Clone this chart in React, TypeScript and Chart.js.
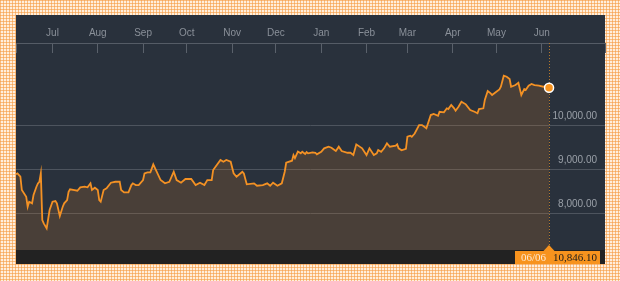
import React, { useEffect, useRef } from "react";
import { Chart, registerables } from "chart.js";

Chart.register(...registerables);

// Days elapsed since the first trading day (June 6) of the one-year window
const dayOffsets = [
  0, 1, 3, 4, 7, 8, 9, 11, 12, 14, 15, 16, 17, 18, 19, 21, 23, 25, 27, 28,
  30, 32, 33, 35, 36, 37, 40, 42, 44, 47, 49, 51, 52, 54, 56, 57, 58, 60, 62, 65,
  68, 71, 72, 74, 77, 79, 80, 82, 84, 87, 88, 90, 92, 94, 99, 102, 105, 108, 110, 113,
  116, 120, 123, 126, 129, 131, 134, 135, 140, 142, 144, 147, 149, 151, 155, 156, 158, 163, 165, 169,
  172, 174, 176, 179, 182, 184, 185, 189, 190, 191, 193, 195, 196, 198, 199, 200, 203, 205, 206, 209,
  211, 214, 216, 219, 221, 223, 227, 229, 231, 233, 237, 240, 242, 245, 247, 248, 250, 252, 254, 256,
  260, 261, 262, 264, 267, 268, 270, 271, 273, 276, 278, 281, 284, 286, 289, 290, 293, 295, 296, 298,
  300, 301, 303, 305, 308, 311, 314, 316, 317, 320, 321, 323, 325, 326, 328, 331, 332, 334, 336, 338,
  339, 342, 344, 346, 348, 349, 351, 353, 355, 358, 361, 363, 365,
];

// Index closing values
const closeValues = [
  8880, 8902, 8825, 8523, 8370, 8143, 8257, 8220, 8409, 8598, 8674, 8711, 8902, 7841, 7766, 7652, 8068, 8257, 8273, 8220,
  7932, 8143, 8220, 8295, 8484, 8539, 8523, 8507, 8584, 8598, 8584, 8675, 8523, 8575, 8523, 8295, 8257, 8523, 8561, 8689,
  8711, 8711, 8523, 8470, 8470, 8636, 8675, 8636, 8636, 8750, 8902, 8925, 8925, 9107, 8750, 8675, 8711, 8939, 8750, 8689,
  8773, 8773, 8636, 8689, 8636, 8750, 8750, 8977, 9205, 9166, 9205, 9166, 8902, 8825, 8939, 8902, 8652, 8675, 8620, 8636,
  8675, 8620, 8689, 8620, 8675, 8939, 9143, 9189, 9318, 9250, 9398, 9357, 9393, 9341, 9386, 9357, 9380, 9370, 9334, 9393,
  9470, 9507, 9484, 9409, 9507, 9409, 9370, 9370, 9318, 9561, 9470, 9318, 9470, 9318, 9357, 9432, 9393, 9470, 9584, 9507,
  9530, 9561, 9470, 9425, 9461, 9734, 9757, 9734, 9807, 10000, 10000, 9925, 10227, 10250, 10211, 10302, 10289, 10380, 10364, 10455,
  10380, 10325, 10416, 10530, 10470, 10341, 10302, 10266, 10364, 10380, 10568, 10773, 10720, 10682, 10734, 10811, 10870, 11120, 11098, 11045,
  10870, 10909, 10961, 10682, 10818, 10795, 10893, 10932, 10909, 10893, 10870, 10893, 10846.1,
];

const monthTickDays = [25, 56, 87, 117, 148, 178, 209, 240, 268, 299, 329, 360];
const monthTickLabels = ["Jul", "Aug", "Sep", "Oct", "Nov", "Dec", "Jan", "Feb", "Mar", "Apr", "May", "Jun"];
const yTickValues = [8000, 9000, 10000];
const lastDateLabel = "06/06";

const X_MIN = 0;
const X_MAX = 403.3;
const Y_MIN = 7160;
const Y_MAX = 11864;

const PANEL = { left: 16, top: 15, right: 605, bottom: 264 };

function fmt2(v: number) {
  return v.toLocaleString("en-US", { minimumFractionDigits: 2, maximumFractionDigits: 2 });
}

function makeChecker(ctx: CanvasRenderingContext2D) {
  const c = document.createElement("canvas");
  c.width = 3;
  c.height = 3;
  const p = c.getContext("2d")!;
  p.fillStyle = "#ffeedc";
  p.fillRect(0, 0, 3, 3);
  p.fillStyle = "rgba(246,156,70,0.62)";
  p.fillRect(0, 0, 3, 1);
  p.fillRect(0, 0, 1, 3);
  return ctx.createPattern(c, "repeat");
}

const framePlugin = {
  id: "frame",
  beforeDraw(chart: any) {
    const ctx: CanvasRenderingContext2D = chart.ctx;
    ctx.save();
    const pat = makeChecker(ctx);
    ctx.fillStyle = pat || "#fcd7ae";
    ctx.fillRect(0, 0, chart.width, chart.height);
    ctx.fillStyle = "#29313c";
    ctx.fillRect(PANEL.left, PANEL.top, PANEL.right - PANEL.left, PANEL.bottom - PANEL.top);
    const ca = chart.chartArea;
    ctx.fillStyle = "#222222";
    ctx.fillRect(PANEL.left, ca.bottom, PANEL.right - PANEL.left, PANEL.bottom - ca.bottom);
    ctx.restore();
  },
  beforeDatasetsDraw(chart: any) {
    const ctx: CanvasRenderingContext2D = chart.ctx;
    const meta = chart.getDatasetMeta(0);
    const last = meta.data[meta.data.length - 1];
    const ca = chart.chartArea;
    ctx.save();
    ctx.strokeStyle = "#b5782c";
    ctx.lineWidth = 1;
    ctx.setLineDash([1, 2]);
    ctx.beginPath();
    ctx.moveTo(Math.round(last.x) + 0.5, ca.top);
    ctx.lineTo(Math.round(last.x) + 0.5, ca.bottom - 5);
    ctx.stroke();
    ctx.restore();
  },
  afterDraw(chart: any) {
    const ctx: CanvasRenderingContext2D = chart.ctx;
    const meta = chart.getDatasetMeta(0);
    const last = meta.data[meta.data.length - 1];
    const ca = chart.chartArea;
    const px = Math.round(last.x);
    const top = ca.bottom + 1;
    const bottom = PANEL.bottom;
    const left = px - 34;
    const right = px + 51;
    ctx.save();
    ctx.fillStyle = "#f7931e";
    ctx.fillRect(left, top, right - left, bottom - top);
    ctx.beginPath();
    ctx.moveTo(px - 6, top + 0.5);
    ctx.lineTo(px, top - 6);
    ctx.lineTo(px + 6, top + 0.5);
    ctx.closePath();
    ctx.fill();
    ctx.font = '11px "Liberation Serif"';
    ctx.textBaseline = "middle";
    ctx.textAlign = "left";
    ctx.fillStyle = "#feead4";
    ctx.fillText(lastDateLabel, left + 6, (top + bottom) / 2 + 0.5);
    ctx.textAlign = "right";
    ctx.fillStyle = "#1c1c1c";
    ctx.fillText(fmt2(closeValues[closeValues.length - 1]), right - 3, (top + bottom) / 2 + 0.5);
    ctx.restore();
  },
};

export default function App() {
  const canvasRef = useRef<HTMLCanvasElement | null>(null);

  useEffect(() => {
    const canvas = canvasRef.current;
    if (!canvas) return;
    const n = closeValues.length;
    const points = dayOffsets.map((d, i) => ({ x: d, y: closeValues[i] }));
    const radii = closeValues.map((_, i) => (i === n - 1 ? 4.5 : 0));

    const chart = new Chart(canvas, {
      type: "line",
      data: {
        datasets: [
          {
            data: points,
            borderColor: "#f39124",
            borderWidth: 1.8,
            backgroundColor: "rgba(204,121,42,0.2)",
            fill: "start",
            tension: 0,
            pointRadius: radii,
            pointHoverRadius: radii,
            pointBackgroundColor: "#f7931e",
            pointBorderColor: "#ffffff",
            pointBorderWidth: 1.5,
            clip: false as any,
          },
        ],
      },
      options: {
        animation: false,
        responsive: false,
        devicePixelRatio: 1,
        events: [],
        layout: {
          padding: { left: 16, right: 15, top: 23, bottom: 31 },
        },
        plugins: {
          legend: { display: false },
          tooltip: { enabled: false },
        },
        scales: {
          x: {
            type: "linear",
            position: "top",
            min: X_MIN,
            max: X_MAX,
            afterBuildTicks: (scale: any) => {
              scale.ticks = [X_MIN, ...monthTickDays, X_MAX].map((v) => ({ value: v }));
            },
            afterFit: (scale: any) => {
              scale.height = 20;
            },
            ticks: {
              autoSkip: false,
              maxRotation: 0,
              padding: 14,
              color: "#8a9099",
              font: { family: '"Liberation Sans", Arial, sans-serif', size: 10 },
              callback: (value: any) => {
                const idx = monthTickDays.indexOf(Number(value));
                return idx >= 0 ? monthTickLabels[idx] : "";
              },
            },
            grid: {
              drawOnChartArea: false,
              drawTicks: true,
              tickLength: -10,
              color: "#5a616b",
              lineWidth: 1,
            },
            border: { display: true, color: "#555c66", width: 1 },
          },
          y: {
            type: "linear",
            position: "right",
            min: Y_MIN,
            max: Y_MAX,
            afterBuildTicks: (scale: any) => {
              scale.ticks = yTickValues.map((v) => ({ value: v }));
            },
            afterFit: (scale: any) => {
              scale.width = 0;
            },
            ticks: {
              mirror: true,
              padding: -8,
              labelOffset: -9,
              color: "#9aa0a8",
              font: { family: '"Liberation Sans", Arial, sans-serif', size: 10 },
              callback: (value: any) => fmt2(Number(value)),
            },
            grid: {
              drawTicks: false,
              color: "#4d545e",
              lineWidth: 1,
            },
            border: { display: false },
          },
        },
      },
      plugins: [framePlugin],
    });

    return () => {
      chart.destroy();
    };
  }, []);

  return (
    <div style={{ position: "fixed", left: 0, top: 0, width: 620, height: 281 }}>
      <canvas ref={canvasRef} width={620} height={281} style={{ display: "block", width: 620, height: 281 }} />
    </div>
  );
}
